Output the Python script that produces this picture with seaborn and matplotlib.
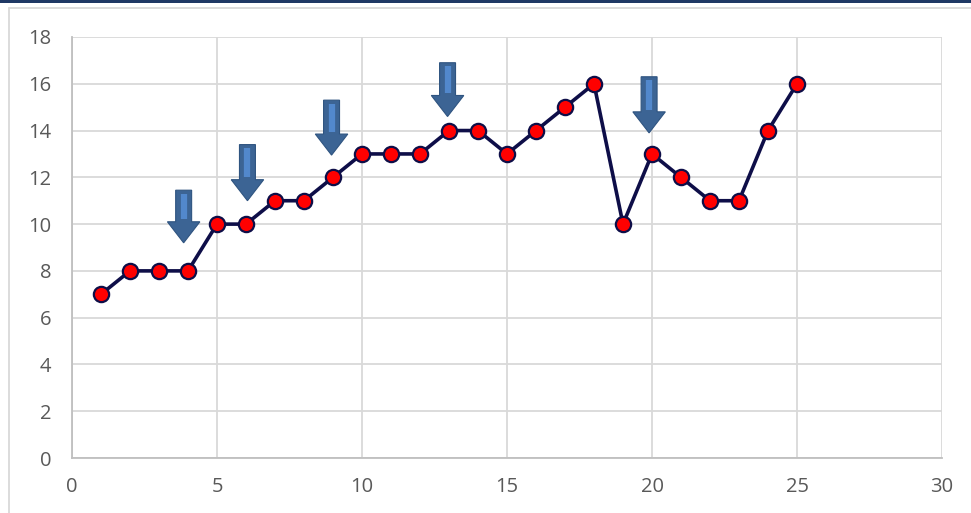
import matplotlib
matplotlib.use("Agg")
import matplotlib.pyplot as plt
import seaborn as sns
import pandas as pd
from matplotlib.patches import Rectangle
from matplotlib.lines import Line2D

x_vals = list(range(1, 26))
y_vals = [7, 8, 8, 8, 10, 10, 11, 11, 12, 13, 13, 13, 14, 14, 13, 14, 15, 16, 10, 13, 12, 11, 11, 14, 16]

arrow_x = [3.85, 6.05, 8.95, 12.95, 19.9]
arrow_top = [11.45, 13.4, 15.3, 16.9, 16.3]
arrow_tip = [9.2, 11.0, 12.95, 14.6, 13.9]

x_ticks = [0, 5, 10, 15, 20, 25, 30]
y_ticks = [0, 2, 4, 6, 8, 10, 12, 14, 16, 18]

sns.set_theme(style="white")
plt.rcParams['font.family'] = ['Open Sans', 'DejaVu Sans']

fig = plt.figure(figsize=(9.71, 5.13), dpi=100)
ax = fig.add_axes([72/971, 55/513, 870/971, 421/513])

df = pd.DataFrame({"x": x_vals, "y": y_vals})
sns.lineplot(data=df, x="x", y="y", ax=ax, color="#0E0E48", linewidth=2.6,
             marker="o", markersize=11, markerfacecolor="#FF0000",
             markeredgecolor="#0E0E48", markeredgewidth=1.6, zorder=5)

for xa, yt, yb in zip(arrow_x, arrow_top, arrow_tip):
    ax.arrow(xa, yt, 0, yb - yt, width=0.55, head_width=1.12, head_length=0.9,
             length_includes_head=True, facecolor="#3C6494", edgecolor="#2F5480",
             linewidth=0.8, zorder=6)
    ax.plot([xa, xa], [yt - 0.15, yb + 1.0], color="#5288CC", linewidth=4.5,
            solid_capstyle="butt", zorder=7)

ax.set_xlim(0, 30)
ax.set_ylim(0, 18)
ax.set_xticks(x_ticks)
ax.set_yticks(y_ticks)
ax.grid(True, color="#D9D9D9", linewidth=1.3)
ax.set_axisbelow(True)
for s in ["top", "right"]:
    ax.spines[s].set_visible(False)
for s in ["left", "bottom"]:
    ax.spines[s].set_color("#BFBFBF")
    ax.spines[s].set_linewidth(1.3)
ax.tick_params(axis="both", colors="#595959", labelsize=14.5, length=0)
ax.tick_params(axis="x", pad=14)
ax.tick_params(axis="y", pad=15)
ax.set_xlabel("")
ax.set_ylabel("")

# outer frame decorations
fig.add_artist(Rectangle((0, 1 - 3/513), 1, 3/513, transform=fig.transFigure,
                         facecolor="#1F3864", edgecolor="none"))
fig.add_artist(Line2D([9/971, 1], [1 - 7.5/513, 1 - 7.5/513], transform=fig.transFigure,
                      color="#D9D9D9", linewidth=1.3))
fig.add_artist(Line2D([9/971, 9/971], [0, 1 - 7.5/513], transform=fig.transFigure,
                      color="#D9D9D9", linewidth=1.3))

fig.savefig("out.png", dpi=100)
